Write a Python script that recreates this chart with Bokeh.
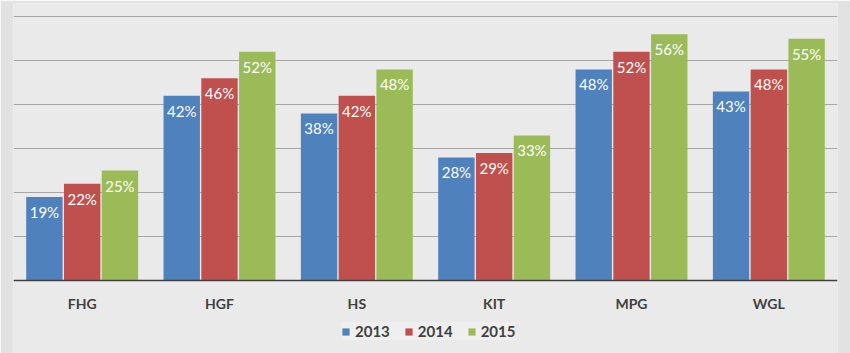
from bokeh.plotting import figure
from bokeh.models import ColumnDataSource, FactorRange, Legend, LegendItem, LabelSet, Range1d, Span
from bokeh.core.properties import value
from bokeh.transform import dodge
from bokeh.embed import file_html
from bokeh.resources import INLINE

categories = ["FHG", "HGF", "HS", "KIT", "MPG", "WGL"]
years = ["2013", "2014", "2015"]
v2013 = [19, 42, 38, 28, 48, 43]
v2014 = [22, 46, 42, 29, 52, 48]
v2015 = [25, 52, 48, 33, 56, 55]
colors = ["#4f81bd", "#c0504d", "#9bbb59"]

src = ColumnDataSource(dict(
    cat=categories,
    zero=[0] * len(categories),
    v2013=v2013, v2014=v2014, v2015=v2015,
    l2013=[f"{v}%" for v in v2013],
    l2014=[f"{v}%" for v in v2014],
    l2015=[f"{v}%" for v in v2015],
))

p = figure(x_range=FactorRange(*categories, range_padding=0), y_range=Range1d(-16.6, 63),
           width=850, height=353, output_backend="svg", toolbar_location=None,
           min_border_left=13, min_border_right=13, min_border_top=3, min_border_bottom=0,
           x_axis_location=None, y_axis_location=None)

p.background_fill_color = "#eaeaea"
p.border_fill_color = "#e2e2e2"
p.outline_line_color = None

offsets = [-0.275, 0.0, 0.275]
renderers = []
for yr, col, off in zip(years, colors, offsets):
    r = p.vbar(x=dodge("cat", off, range=p.x_range), top="v" + yr, bottom=0, width=0.265,
               source=src, fill_color=col, line_color=None)
    renderers.append(r)
    labels = LabelSet(x=dodge("cat", off, range=p.x_range), y="v" + yr, text="l" + yr,
                      source=src, text_align="center", text_baseline="top", y_offset=-6,
                      text_color="white", text_font=value("Lato"), text_font_size="15px")
    p.add_layout(labels)

p.ygrid.grid_line_color = "#a6a6a6"
p.ygrid.grid_line_width = 1
p.ygrid.ticker = [10, 20, 30, 40, 50, 60]
p.xgrid.grid_line_color = None

p.add_layout(Span(location=0, dimension="width", line_color="#404040", line_width=1.5))

cat_labels = LabelSet(x="cat", y="zero", text="cat", source=src, text_align="center",
                      text_baseline="top", y_offset=-14, text_color="#404040",
                      text_font=value("Lato"), text_font_style="bold", text_font_size="14px")
p.add_layout(cat_labels)

legend = Legend(items=[LegendItem(label=yr, renderers=[r]) for yr, r in zip(years, renderers)],
                orientation="horizontal", location=(328, 13))
legend.label_text_font = "Lato"
legend.label_text_font_style = "bold"
legend.label_text_font_size = "15px"
legend.label_text_color = "#404040"
legend.glyph_width = 9
legend.glyph_height = 9
legend.label_standoff = 5
legend.spacing = 14
legend.padding = 6
legend.margin = 0
legend.border_line_color = None
legend.background_fill_color = "#efefef"
legend.background_fill_alpha = 0.9
p.add_layout(legend, "center")

open("out.html", "w").write(file_html(p, INLINE))
